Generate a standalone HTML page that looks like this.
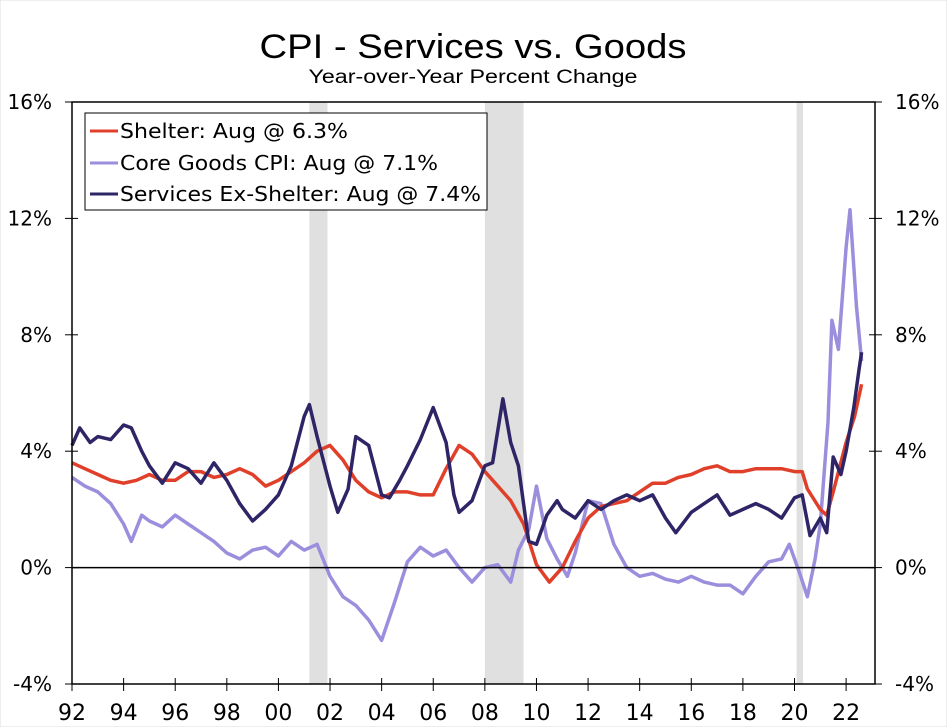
<!DOCTYPE html>
<html><head><meta charset="utf-8"><style>
body{margin:0;background:#fff}
svg{display:block;font-family:"DejaVu Sans","Liberation Sans",sans-serif}
</style></head><body>
<svg id="chart" width="947" height="727" viewBox="0 0 947 727">
<rect x="0" y="0" width="947" height="727" fill="#fff" stroke="#ddd"/>
<text x="473" y="58" text-anchor="middle" font-size="34" font-family="Liberation Sans, sans-serif" textLength="427" lengthAdjust="spacingAndGlyphs">CPI - Services vs. Goods</text>
<text x="473" y="83" text-anchor="middle" font-size="19" font-family="Liberation Sans, sans-serif" textLength="329" lengthAdjust="spacingAndGlyphs">Year-over-Year Percent Change</text>
<g id="rec"></g>
<g id="grid"></g>
<g id="lines"></g>
<g id="axes"></g>
<g>
<rect x="85" y="113" width="402" height="97" fill="#fff" stroke="#000" stroke-width="1"/>
<line x1="90" y1="131" x2="118" y2="131" stroke="#e0402a" stroke-width="3"/>
<text x="120" y="138" font-size="20" textLength="228" lengthAdjust="spacingAndGlyphs">Shelter: Aug @ 6.3%</text>
<line x1="90" y1="163" x2="118" y2="163" stroke="#9b8fdd" stroke-width="3"/>
<text x="120" y="170" font-size="20" textLength="318" lengthAdjust="spacingAndGlyphs">Core Goods CPI: Aug @ 7.1%</text>
<line x1="90" y1="194" x2="118" y2="194" stroke="#2e2566" stroke-width="3"/>
<text x="120" y="201" font-size="20" textLength="361" lengthAdjust="spacingAndGlyphs">Services Ex-Shelter: Aug @ 7.4%</text>
</g>
</svg>
<script>
const recessionStart=[2001.2,2008.0,2020.08];
const recessionEnd=[2001.9,2009.5,2020.33];
const yTicks=[-4,0,4,8,12,16];
const xTickYears=[1992,1994,1996,1998,2000,2002,2004,2006,2008,2010,2012,2014,2016,2018,2020,2022];
const xTickLabels=["92","94","96","98","00","02","04","06","08","10","12","14","16","18","20","22"];
const shelterYears=[1992,1992.5,1993,1993.5,1994,1994.5,1995,1995.5,1996,1996.5,1997,1997.5,1998,1998.5,1999,1999.5,2000,2000.5,2001,2001.5,2002,2002.5,2003,2003.5,2004,2004.5,2005,2005.5,2006,2006.5,2007,2007.5,2008,2008.5,2009,2009.5,2010,2010.5,2011,2011.5,2012,2012.5,2013,2013.5,2014,2014.5,2015,2015.5,2016,2016.5,2017,2017.5,2018,2018.5,2019,2019.5,2020,2020.3,2020.5,2021,2021.25,2021.5,2022,2022.33,2022.6];
const shelterValues=[3.6,3.4,3.2,3.0,2.9,3.0,3.2,3.0,3.0,3.3,3.3,3.1,3.2,3.4,3.2,2.8,3.0,3.3,3.6,4.0,4.2,3.7,3.0,2.6,2.4,2.6,2.6,2.5,2.5,3.4,4.2,3.9,3.3,2.8,2.3,1.5,0.1,-0.5,0.0,0.9,1.7,2.1,2.2,2.3,2.6,2.9,2.9,3.1,3.2,3.4,3.5,3.3,3.3,3.4,3.4,3.4,3.3,3.3,2.7,2.0,1.8,2.6,4.3,5.2,6.3];
const goodsYears=[1992,1992.5,1993,1993.5,1994,1994.3,1994.7,1995,1995.5,1996,1996.5,1997,1997.5,1998,1998.5,1999,1999.5,2000,2000.5,2001,2001.5,2002,2002.5,2003,2003.5,2004,2004.5,2005,2005.5,2006,2006.5,2007,2007.5,2008,2008.5,2009,2009.3,2009.7,2010,2010.4,2010.8,2011.2,2011.5,2012,2012.5,2013,2013.5,2014,2014.5,2015,2015.5,2016,2016.5,2017,2017.5,2018,2018.5,2019,2019.5,2019.8,2020.2,2020.5,2020.8,2021,2021.3,2021.45,2021.7,2022,2022.15,2022.4,2022.6];
const goodsValues=[3.1,2.8,2.6,2.2,1.5,0.9,1.8,1.6,1.4,1.8,1.5,1.2,0.9,0.5,0.3,0.6,0.7,0.4,0.9,0.6,0.8,-0.3,-1.0,-1.3,-1.8,-2.5,-1.2,0.2,0.7,0.4,0.6,0.0,-0.5,0.0,0.1,-0.5,0.6,1.3,2.8,1.0,0.3,-0.3,0.5,2.3,2.2,0.8,0.0,-0.3,-0.2,-0.4,-0.5,-0.3,-0.5,-0.6,-0.6,-0.9,-0.3,0.2,0.3,0.8,-0.2,-1.0,0.3,1.5,5.0,8.5,7.5,11.0,12.3,9.0,7.1];
const servYears=[1992,1992.3,1992.7,1993,1993.5,1994,1994.3,1994.7,1995,1995.5,1996,1996.5,1997,1997.5,1998,1998.5,1999,1999.5,2000,2000.5,2001,2001.2,2001.5,2002,2002.3,2002.7,2003,2003.5,2004,2004.3,2004.7,2005,2005.5,2006,2006.5,2006.8,2007,2007.5,2008,2008.3,2008.7,2009,2009.3,2009.7,2010,2010.4,2010.8,2011,2011.5,2012,2012.5,2013,2013.5,2014,2014.5,2015,2015.4,2016,2016.5,2017,2017.5,2018,2018.5,2019,2019.5,2020,2020.3,2020.6,2021,2021.25,2021.5,2021.8,2022,2022.3,2022.5,2022.6];
const servValues=[4.2,4.8,4.3,4.5,4.4,4.9,4.8,4.0,3.5,2.9,3.6,3.4,2.9,3.6,3.0,2.2,1.6,2.0,2.5,3.5,5.2,5.6,4.5,2.8,1.9,2.7,4.5,4.2,2.5,2.4,3.0,3.5,4.4,5.5,4.3,2.5,1.9,2.3,3.5,3.6,5.8,4.3,3.5,0.9,0.8,1.8,2.3,2.0,1.7,2.3,2.0,2.3,2.5,2.3,2.5,1.7,1.2,1.9,2.2,2.5,1.8,2.0,2.2,2.0,1.7,2.4,2.5,1.1,1.7,1.2,3.8,3.2,4.0,5.5,6.8,7.4];

const NS="http://www.w3.org/2000/svg";
const L=72,R=875,T=102,B=684;
function xs(yr){return L+(yr-1992)*(R-L)/(2023.12-1992);}
function ys(v){return B-(v+4)*(B-T)/20;}
function mk(tag,attrs,parent){const e=document.createElementNS(NS,tag);for(const k in attrs)e.setAttribute(k,attrs[k]);parent.appendChild(e);return e;}
const rec=document.getElementById('rec');
recessionStart.forEach((s,i)=>{
  const r=mk('rect',{x:xs(s),y:T,width:xs(recessionEnd[i])-xs(s),height:B-T,fill:'#e0e0e0'},rec);
  
  
});
const ax=document.getElementById('axes');
const zl=mk('line',{x1:L,x2:R,y1:ys(0),y2:ys(0),stroke:'#000','stroke-width':1.5},ax);


const frame=mk('path',{d:`M${L},${T}H${R}V${B}H${L}Z`,fill:'none',stroke:'#000','stroke-width':1.5},ax);


yTicks.forEach(v=>{
  const y=ys(v);
  mk('line',{x1:L-7,x2:L+6,y1:y,y2:y,stroke:'#000'},ax);
  mk('line',{x1:R-6,x2:R+7,y1:y,y2:y,stroke:'#000'},ax);
  const t1=mk('text',{x:52,y:y+7,'text-anchor':'end','font-size':20},ax);t1.textContent=v+'%';
  
  
  const t2=mk('text',{x:895,y:y+7,'font-size':20},ax);t2.textContent=v+'%';
  
  
});
xTickYears.forEach((yr,i)=>{
  const x=xs(yr);
  mk('line',{x1:x,x2:x,y1:B-6,y2:B+7,stroke:'#000'},ax);
  const t=mk('text',{x:x,y:720,'text-anchor':'middle','font-size':22},ax);t.textContent=xTickLabels[i];
  
  
});
const lg=document.getElementById('lines');
function series(xsArr,vals,color,name){
  const d=xsArr.map((yr,i)=>(i?'L':'M')+xs(yr).toFixed(1)+','+ys(vals[i]).toFixed(1)).join('');
  const p=mk('path',{d:d,fill:'none',stroke:color,'stroke-width':3.5,'stroke-linejoin':'round'},lg);
  
  
}
series(goodsYears,goodsValues,'#9b8fdd','core-goods-line');
series(shelterYears,shelterValues,'#e0402a','shelter-line');
series(servYears,servValues,'#2e2566','services-ex-shelter-line');
</script>
</body></html>
